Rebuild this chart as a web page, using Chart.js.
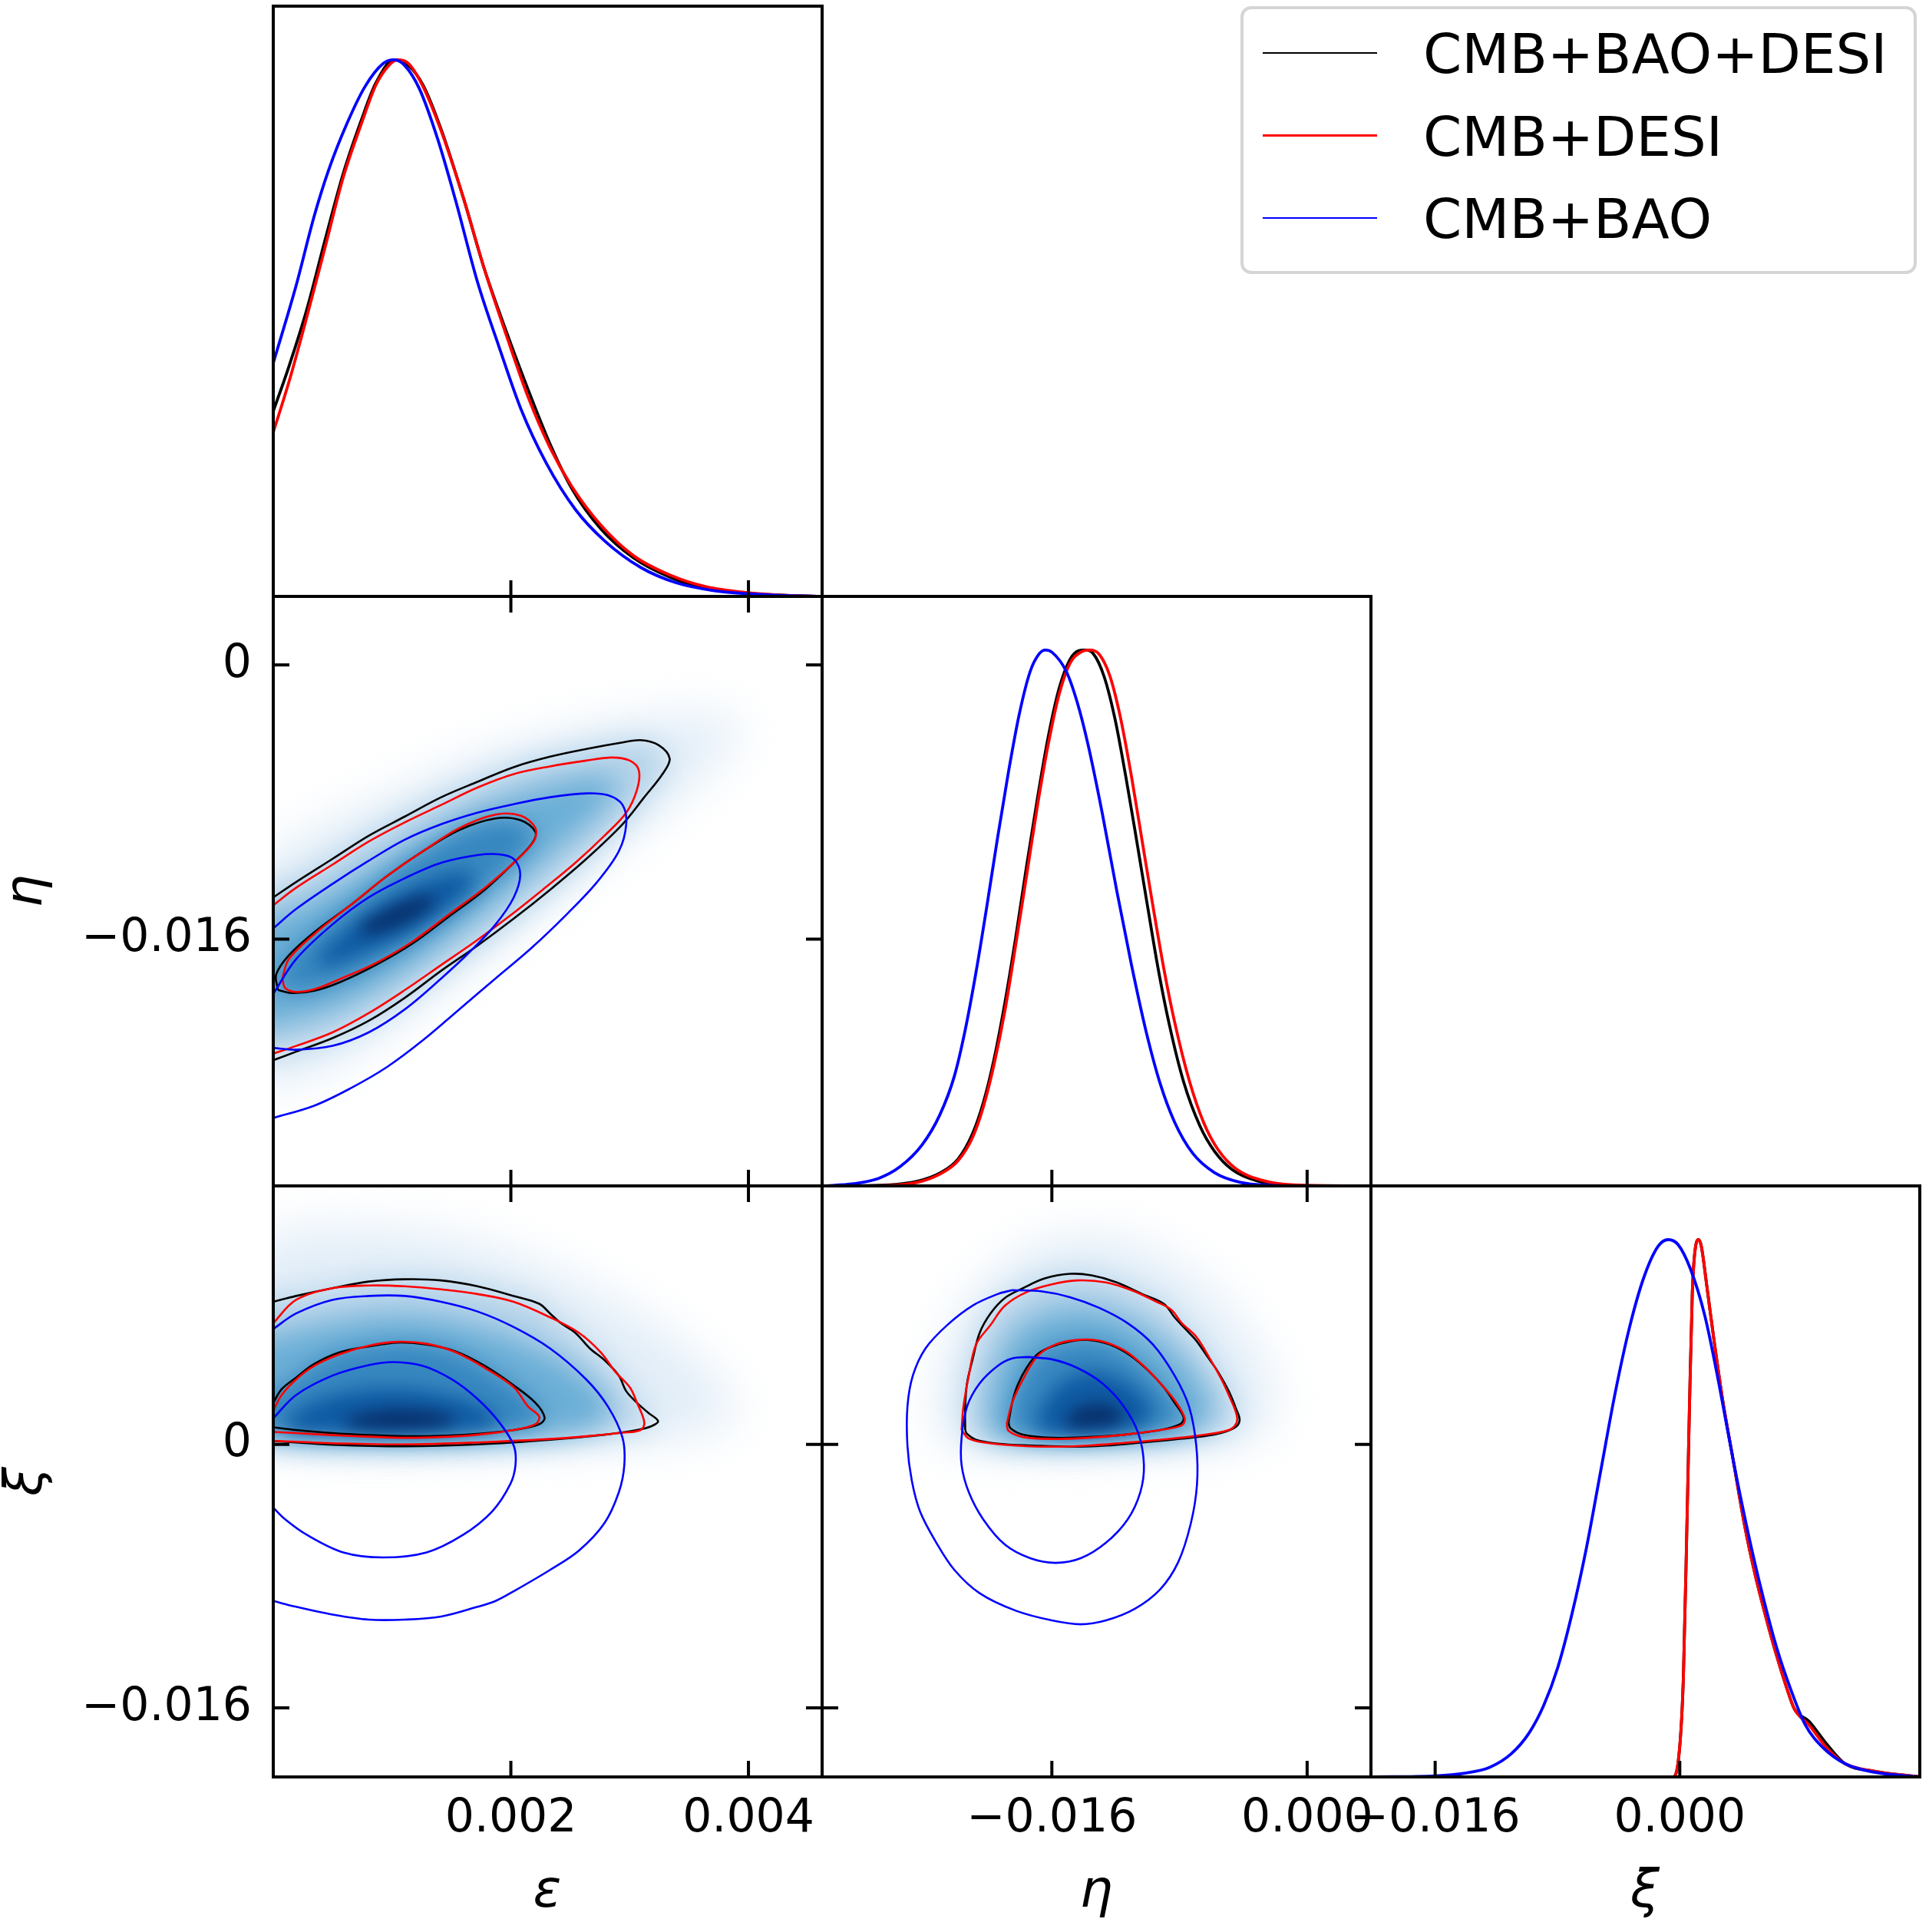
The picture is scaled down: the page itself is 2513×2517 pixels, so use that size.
<!DOCTYPE html>
<html>
<head>
<meta charset="utf-8">
<script src="https://cdn.jsdelivr.net/npm/chart.js@4.4.1/dist/chart.umd.min.js"></script>
<style>
  html, body { margin: 0; padding: 0; background: #fff; }
  body { position: relative; width: 2513px; height: 2517px; overflow: hidden; font-family: 'DejaVu Sans', sans-serif; }
  #legend { position: absolute; left: 1616px; top: 8px; width: 881px; height: 349px; box-sizing: border-box;
            border: 4px solid #d5d5d5; border-radius: 14px; background: rgba(255,255,255,0.8); z-index: 5; }
  .lg-line { position: absolute; left: 25px; width: 149px; height: 2.5px; }
  .lg-text { position: absolute; left: 234px; font-family: 'DejaVu Sans'; font-size: 72px; line-height: 72px; white-space: nowrap; color: #000; }
  .ax { position: absolute; width: 200px; height: 68px; line-height: 68px; text-align: center; color: #000;
        font-family: 'DejaVu Sans'; font-style: italic; font-size: 68px; }
  .rot { transform: rotate(-90deg); transform-origin: 50% 50%; }
</style>
</head>
<body>
<div id="legend"></div>
<div class="ax" style="left:613px;top:2427px">ε</div>
<div class="ax" style="left:1328px;top:2427px">η</div>
<div class="ax" style="left:2043px;top:2427px">ξ</div>
<div class="ax rot" style="left:-69px;top:1127px">η</div>
<div class="ax rot" style="left:-69px;top:1896px">ξ</div>
<script>
// axis ranges and ticks
const epsRange = [0, 0.00462];
const etaRange = [-0.0304, 0.0040];
const xiRange = [-0.0202, 0.0157];
const pdfRange = [0, 1.1];
const epsTicks = [0.002, 0.004];
const epsTickLabels = ['0.002', '0.004'];
const etaTicks = [-0.016, 0];
const etaXTickLabels = ['−0.016', '0.000'];
const etaYTickLabels = ['−0.016', '0'];
const xiTicks = [-0.016, 0];
const xiXTickLabels = ['−0.016', '0.000'];
const xiYTickLabels = ['−0.016', '0'];

const seriesNames = ['CMB+BAO+DESI', 'CMB+DESI', 'CMB+BAO'];
const seriesColors = ['#000000', '#ff0000', '#0000ff'];

// 1D marginals (normalised to peak = 1)
const epsBlack = [[0,0.345],[0.000131,0.428],[0.000284,0.536],[0.000437,0.665],[0.000589,0.788],[0.000742,0.888],[0.000864,0.957],[0.001017,1.0],[0.001139,0.989],[0.001261,0.953],[0.001414,0.870],[0.001597,0.745],[0.001780,0.608],[0.001963,0.493],[0.002146,0.385],[0.002330,0.284],[0.002513,0.201],[0.002757,0.126],[0.003032,0.072],[0.003337,0.036],[0.003643,0.014],[0.003993,0.006],[0.004314,0.002],[0.00462,0]];
const epsRed = [[0,0.306],[0.000131,0.399],[0.000284,0.522],[0.000437,0.651],[0.000589,0.781],[0.000742,0.881],[0.000864,0.953],[0.000971,0.989],[0.001047,1.0],[0.001139,0.993],[0.001261,0.950],[0.001414,0.867],[0.001597,0.745],[0.001780,0.608],[0.001963,0.486],[0.002146,0.371],[0.002330,0.277],[0.002513,0.205],[0.002757,0.133],[0.003032,0.076],[0.003337,0.040],[0.003643,0.018],[0.003993,0.007],[0.004314,0.002],[0.00462,0]];
const epsBlue = [[0,0.435],[0.000192,0.579],[0.000345,0.709],[0.000467,0.795],[0.000620,0.881],[0.000772,0.950],[0.000925,0.993],[0.001017,1.0],[0.001108,0.989],[0.001230,0.946],[0.001383,0.853],[0.001536,0.737],[0.001719,0.586],[0.001902,0.464],[0.002085,0.349],[0.002299,0.248],[0.002543,0.162],[0.002787,0.104],[0.003093,0.054],[0.003398,0.025],[0.003703,0.011],[0.003993,0.005],[0.004314,0.0015],[0.00462,0]];

const etaBlack = [[-0.03037,0],[-0.026184,0.002],[-0.024373,0.009],[-0.023015,0.024],[-0.021884,0.050],[-0.020979,0.097],[-0.020300,0.155],[-0.019621,0.237],[-0.018942,0.342],[-0.018263,0.464],[-0.017584,0.597],[-0.016905,0.723],[-0.016226,0.838],[-0.015547,0.928],[-0.014869,0.982],[-0.014303,0.999],[-0.013963,1.0],[-0.013398,0.993],[-0.012719,0.950],[-0.012040,0.871],[-0.011361,0.763],[-0.010682,0.644],[-0.010003,0.522],[-0.009324,0.403],[-0.008645,0.302],[-0.007740,0.194],[-0.006722,0.112],[-0.005816,0.065],[-0.004685,0.030],[-0.003101,0.009],[-0.000838,0.001],[0.004,0]];
const etaRed = [[-0.03037,0],[-0.026184,0.001],[-0.024373,0.007],[-0.023015,0.022],[-0.021884,0.047],[-0.020979,0.090],[-0.020300,0.147],[-0.019621,0.227],[-0.018942,0.327],[-0.018263,0.450],[-0.017584,0.579],[-0.016905,0.709],[-0.016226,0.824],[-0.015547,0.917],[-0.014869,0.975],[-0.014190,0.996],[-0.013624,1.0],[-0.013058,0.993],[-0.012379,0.953],[-0.011700,0.874],[-0.011021,0.766],[-0.010343,0.644],[-0.009664,0.522],[-0.008985,0.406],[-0.008306,0.306],[-0.007401,0.198],[-0.006495,0.119],[-0.005590,0.068],[-0.004458,0.032],[-0.002875,0.011],[-0.000838,0.002],[0.004,0]];
const etaBlue = [[-0.03037,0],[-0.028447,0.004],[-0.026862,0.014],[-0.025505,0.036],[-0.024147,0.076],[-0.023015,0.133],[-0.022110,0.205],[-0.021431,0.291],[-0.020752,0.399],[-0.020073,0.522],[-0.019395,0.651],[-0.018716,0.773],[-0.018037,0.881],[-0.017358,0.960],[-0.016792,0.993],[-0.016407,1.0],[-0.016,0.996],[-0.015095,0.960],[-0.014416,0.903],[-0.013737,0.824],[-0.012832,0.694],[-0.011927,0.550],[-0.011021,0.414],[-0.010116,0.291],[-0.009211,0.191],[-0.008306,0.119],[-0.007174,0.061],[-0.005816,0.025],[-0.004232,0.007],[-0.002196,0.001],[-0.000159,0],[0.004,0]];

const xiBlack = [[-0.0202,0],[-0.000470,0],[-0.000118,0.025],[0.000234,0.183],[0.000469,0.470],[0.000633,0.687],[0.000821,0.902],[0.001055,0.991],[0.001220,1.0],[0.001407,0.988],[0.001759,0.916],[0.002229,0.815],[0.002815,0.700],[0.003519,0.586],[0.004223,0.471],[0.004926,0.377],[0.005630,0.298],[0.006334,0.226],[0.007038,0.162],[0.007507,0.126],[0.008445,0.104],[0.009618,0.061],[0.010791,0.025],[0.012668,0.011],[0.0157,0]];
const xiRed = [[-0.0202,0],[-0.000470,0],[-0.000118,0.025],[0.000234,0.183],[0.000469,0.470],[0.000633,0.687],[0.000821,0.902],[0.001055,0.991],[0.001220,1.0],[0.001407,0.988],[0.001759,0.916],[0.002229,0.815],[0.002815,0.700],[0.003519,0.586],[0.004223,0.471],[0.004926,0.377],[0.005630,0.298],[0.006334,0.226],[0.007038,0.162],[0.007507,0.126],[0.008445,0.097],[0.009618,0.054],[0.010791,0.025],[0.012668,0.011],[0.0157,0]];
const xiBlue = [[-0.0202,0],[-0.016,0.002],[-0.014076,0.007],[-0.012434,0.018],[-0.011026,0.043],[-0.009853,0.082],[-0.008915,0.132],[-0.007977,0.204],[-0.007038,0.305],[-0.006100,0.427],[-0.005162,0.571],[-0.004223,0.715],[-0.003285,0.837],[-0.002346,0.930],[-0.001408,0.988],[-0.000751,1.0],[-0.000118,0.991],[0.000704,0.945],[0.001642,0.858],[0.002580,0.729],[0.003519,0.586],[0.004457,0.456],[0.005396,0.341],[0.006334,0.241],[0.007272,0.162],[0.008211,0.097],[0.009384,0.054],[0.010791,0.025],[0.012668,0.009],[0.0157,0]];

// 2D contours (outer = 95%, inner = 68%)
const epsEtaBlackOuter = [[0,-0.013568],[0.000192,-0.012668],[0.000498,-0.011318],[0.000803,-0.009968],[0.001108,-0.008843],[0.001414,-0.007718],[0.001719,-0.006818],[0.002024,-0.005963],[0.002330,-0.005355],[0.002635,-0.004905],[0.002940,-0.004523],[0.003093,-0.004388],[0.003245,-0.00468],[0.003337,-0.005468],[0.003276,-0.006368],[0.003123,-0.007718],[0.002940,-0.009293],[0.002635,-0.011318],[0.002330,-0.013118],[0.002024,-0.014805],[0.001719,-0.016380],[0.001414,-0.017843],[0.001108,-0.019418],[0.000803,-0.020768],[0.000498,-0.021780],[0.000192,-0.022568],[0,-0.023063]];
const epsEtaRedOuter = [[0,-0.014018],[0.000192,-0.013005],[0.000498,-0.011655],[0.000803,-0.010305],[0.001108,-0.009180],[0.001414,-0.008168],[0.001719,-0.007155],[0.002024,-0.006368],[0.002330,-0.005918],[0.002635,-0.00558],[0.002848,-0.0054],[0.003001,-0.00558],[0.003077,-0.006143],[0.003062,-0.007268],[0.002971,-0.008618],[0.002787,-0.009968],[0.002543,-0.011543],[0.002268,-0.013118],[0.002024,-0.014468],[0.001719,-0.016043],[0.001414,-0.017505],[0.001108,-0.018968],[0.000803,-0.020318],[0.000498,-0.021443],[0.000192,-0.022230],[0,-0.022680]];
const epsEtaBlueOuter = [[0,-0.015368],[0.000192,-0.014243],[0.000498,-0.012780],[0.000803,-0.011430],[0.001108,-0.010193],[0.001414,-0.009293],[0.001719,-0.008618],[0.002024,-0.008123],[0.002330,-0.007718],[0.002635,-0.007493],[0.002818,-0.007605],[0.002940,-0.008168],[0.002971,-0.009293],[0.002909,-0.010868],[0.002726,-0.012668],[0.002482,-0.014468],[0.002177,-0.016493],[0.001871,-0.018293],[0.001566,-0.020093],[0.001261,-0.021893],[0.000956,-0.023468],[0.000650,-0.024705],[0.000345,-0.025718],[0,-0.026438]];
const epsEtaBlackInner = [[0.0000397,-0.018968],[0.0000244,-0.018068],[0.000131,-0.016943],[0.000345,-0.015593],[0.000650,-0.014018],[0.000956,-0.012330],[0.001261,-0.010868],[0.001566,-0.009630],[0.001871,-0.008955],[0.002085,-0.009068],[0.002207,-0.009743],[0.002177,-0.010418],[0.002024,-0.011543],[0.001780,-0.013118],[0.001475,-0.014693],[0.001169,-0.016268],[0.000864,-0.017505],[0.000559,-0.018518],[0.000345,-0.019013],[0.000162,-0.019148]];
const epsEtaRedInner = [[0.0000763,-0.018293],[0.000131,-0.017168],[0.000345,-0.015705],[0.000650,-0.014018],[0.000956,-0.012330],[0.001261,-0.010868],[0.001566,-0.009518],[0.001871,-0.008730],[0.002085,-0.008798],[0.002207,-0.009518],[0.002192,-0.010305],[0.002024,-0.011543],[0.001780,-0.013005],[0.001475,-0.014580],[0.001169,-0.016155],[0.000864,-0.017393],[0.000559,-0.018338],[0.000345,-0.018923],[0.000192,-0.019080],[0.000101,-0.018855]];
const epsEtaBlueInner = [[0,-0.019193],[0.000192,-0.017168],[0.000498,-0.015143],[0.000803,-0.013568],[0.001108,-0.012443],[0.001414,-0.011543],[0.001719,-0.011093],[0.001902,-0.011048],[0.002024,-0.011318],[0.002079,-0.012218],[0.002024,-0.013568],[0.001871,-0.015143],[0.001658,-0.016718],[0.001414,-0.018293],[0.001108,-0.020093],[0.000803,-0.021443],[0.000498,-0.022230],[0.000192,-0.022455],[0,-0.022343]];

const epsXiBlackOuter = [[0,0.008661],[0.000192,0.009015],[0.000498,0.009487],[0.000803,0.009888],[0.001108,0.010030],[0.001414,0.009959],[0.001719,0.009605],[0.002024,0.009015],[0.002238,0.008543],[0.002330,0.007953],[0.002421,0.007363],[0.002543,0.006773],[0.002665,0.005829],[0.002787,0.005121],[0.002909,0.004177],[0.002971,0.003233],[0.003062,0.002525],[0.003154,0.001935],[0.003239,0.001416],[0.003184,0.001109],[0.003062,0.000873],[0.002787,0.000590],[0.002330,0.000283],[0.001719,0],[0.001108,-0.000118],[0.000498,-0.000024],[0.000192,0.000118],[0,0.000212]];
const epsXiRedOuter = [[0,0.007363],[0.000192,0.008779],[0.000498,0.009487],[0.000803,0.009652],[0.001108,0.009605],[0.001414,0.009416],[0.001719,0.009133],[0.002024,0.008661],[0.002330,0.007717],[0.002574,0.006773],[0.002757,0.005593],[0.002879,0.004413],[0.003001,0.003469],[0.003062,0.002525],[0.003123,0.001345],[0.003093,0.000873],[0.002940,0.000708],[0.002635,0.000496],[0.002330,0.000330],[0.001719,0.000118],[0.001108,0],[0.000498,0.000071],[0.000192,0.000165],[0,0.000212]];
const epsXiBlueOuter = [[0,0.007009],[0.000192,0.007953],[0.000498,0.008779],[0.000803,0.009015],[0.001108,0.009015],[0.001414,0.008661],[0.001719,0.008071],[0.002024,0.007127],[0.002330,0.005829],[0.002635,0.003941],[0.002818,0.002289],[0.002940,0.000401],[0.002955,-0.001251],[0.002909,-0.002903],[0.002787,-0.004791],[0.002574,-0.006443],[0.002330,-0.007623],[0.002024,-0.008921],[0.001871,-0.009511],[0.001719,-0.009865],[0.001414,-0.010455],[0.001108,-0.010644],[0.000803,-0.010644],[0.000498,-0.010337],[0.000192,-0.009865],[0,-0.009511]];
const epsXiBlackInner = [[0,0.002525],[0.0000702,0.003351],[0.000192,0.004059],[0.000345,0.004885],[0.000559,0.005593],[0.000803,0.005947],[0.001047,0.006183],[0.001291,0.006065],[0.001536,0.005640],[0.001780,0.004767],[0.002024,0.003587],[0.002207,0.002525],[0.002284,0.001628],[0.002238,0.001227],[0.002024,0.000873],[0.001719,0.000637],[0.001414,0.000519],[0.001108,0.000496],[0.000803,0.000566],[0.000498,0.000684],[0.000192,0.000873],[0,0.001038]];
const epsXiRedInner = [[0,0.002053],[0.0000702,0.002997],[0.000192,0.003941],[0.000345,0.004767],[0.000559,0.005475],[0.000803,0.005994],[0.001047,0.006230],[0.001291,0.006112],[0.001536,0.005593],[0.001780,0.004649],[0.002024,0.003469],[0.002146,0.002289],[0.002238,0.001699],[0.002207,0.001227],[0.002024,0.000873],[0.001719,0.000590],[0.001414,0.000448],[0.001108,0.000401],[0.000803,0.000472],[0.000498,0.000566],[0.000192,0.000684],[0,0.000755]];
const epsXiBlueInner = [[0,0.001581],[0.000192,0.002997],[0.000498,0.004177],[0.000803,0.004814],[0.001017,0.005003],[0.001261,0.004767],[0.001505,0.003941],[0.001719,0.002761],[0.001902,0.001345],[0.002024,-0.000071],[0.002039,-0.001251],[0.001994,-0.002431],[0.001841,-0.004083],[0.001597,-0.005499],[0.001291,-0.006561],[0.000925,-0.006868],[0.000589,-0.006561],[0.000284,-0.005499],[0.000101,-0.004555],[0,-0.003847]];

const etaXiBlackOuter = [[-0.021431,0.000873],[-0.021431,0.002289],[-0.021318,0.003705],[-0.020979,0.005121],[-0.020526,0.006773],[-0.019847,0.007953],[-0.018942,0.008897],[-0.017810,0.009487],[-0.016453,0.010077],[-0.014869,0.010360],[-0.013511,0.010266],[-0.011927,0.009841],[-0.010343,0.009133],[-0.008985,0.008543],[-0.008306,0.007717],[-0.007627,0.007009],[-0.006948,0.006301],[-0.006269,0.005357],[-0.005590,0.004413],[-0.004911,0.003233],[-0.004458,0.002171],[-0.004232,0.001463],[-0.004572,0.000991],[-0.005816,0.000590],[-0.008080,0.000330],[-0.010343,0.000118],[-0.012606,-0.000071],[-0.014869,-0.000142],[-0.017132,-0.000071],[-0.019395,0.000047],[-0.020752,0.000283],[-0.021318,0.000637]];
const etaXiRedOuter = [[-0.021658,0.000873],[-0.021544,0.002289],[-0.021205,0.004177],[-0.020752,0.006065],[-0.019847,0.007245],[-0.018942,0.008425],[-0.017584,0.009251],[-0.016,0.009723],[-0.014416,0.009959],[-0.012606,0.009841],[-0.011021,0.009369],[-0.009437,0.008661],[-0.008532,0.008189],[-0.007853,0.007363],[-0.006948,0.006537],[-0.006043,0.005121],[-0.005364,0.003941],[-0.004911,0.002997],[-0.004458,0.001935],[-0.004413,0.001345],[-0.004911,0.000873],[-0.006948,0.000519],[-0.009211,0.000283],[-0.011474,0.000094],[-0.013737,-0.000071],[-0.016,-0.000142],[-0.018263,-0.000071],[-0.020073,0.000094],[-0.021205,0.000354]];
const etaXiBlueOuter = [[-0.018489,0.009369],[-0.016679,0.009298],[-0.014869,0.008944],[-0.013058,0.008307],[-0.011248,0.007363],[-0.009664,0.006065],[-0.008306,0.004177],[-0.007401,0.002289],[-0.006948,-0.000071],[-0.006903,-0.002431],[-0.007288,-0.004791],[-0.008080,-0.007151],[-0.009211,-0.008803],[-0.010795,-0.009983],[-0.012606,-0.010691],[-0.014190,-0.010927],[-0.016,-0.010691],[-0.018263,-0.010101],[-0.020526,-0.009039],[-0.022110,-0.007623],[-0.023242,-0.005971],[-0.024260,-0.004083],[-0.024780,-0.002195],[-0.025052,-0.000071],[-0.025052,0.002289],[-0.024713,0.004177],[-0.023921,0.005829],[-0.022563,0.007245],[-0.020979,0.008425],[-0.019395,0.009133]];
const etaXiBlackInner = [[-0.018716,0.001345],[-0.018489,0.002525],[-0.018150,0.003587],[-0.017584,0.004649],[-0.016905,0.005475],[-0.016,0.005947],[-0.014869,0.006254],[-0.013737,0.006348],[-0.012379,0.006065],[-0.011021,0.005357],[-0.009890,0.004413],[-0.008985,0.003469],[-0.008306,0.002525],[-0.007740,0.001628],[-0.007966,0.001227],[-0.009211,0.000873],[-0.011474,0.000590],[-0.013737,0.000448],[-0.016,0.000401],[-0.017810,0.000590],[-0.018602,0.000991]];
const etaXiRedInner = [[-0.018829,0.001227],[-0.018489,0.002525],[-0.017810,0.003941],[-0.016905,0.005357],[-0.015774,0.006065],[-0.014416,0.006348],[-0.013058,0.006301],[-0.011474,0.005711],[-0.010116,0.004649],[-0.008985,0.003469],[-0.008193,0.002525],[-0.007672,0.001581],[-0.007853,0.001156],[-0.009211,0.000873],[-0.011474,0.000590],[-0.013737,0.000401],[-0.016,0.000330],[-0.017810,0.000448],[-0.018716,0.000826]];
const etaXiBlueInner = [[-0.017584,0.005310],[-0.016,0.005168],[-0.014416,0.004649],[-0.012832,0.003705],[-0.011474,0.002289],[-0.010569,0.000637],[-0.010229,-0.001251],[-0.010456,-0.002903],[-0.011248,-0.004555],[-0.012606,-0.005971],[-0.014190,-0.006915],[-0.015774,-0.007198],[-0.017358,-0.006915],[-0.018942,-0.006089],[-0.020300,-0.004555],[-0.021205,-0.002903],[-0.021658,-0.001251],[-0.021658,0.000401],[-0.021318,0.002289],[-0.020526,0.003705],[-0.019395,0.004767],[-0.018489,0.005216]];

// density shading levels for CMB+BAO+DESI (outermost first)
const epsEtaShade0 = [[0,-0.011993],[0.000803,-0.008168],[0.001719,-0.005243],[0.002635,-0.003668],[0.003398,-0.002768],[0.004008,-0.002993],[0.003856,-0.005018],[0.003398,-0.007943],[0.002940,-0.010193],[0.002330,-0.013568],[0.001719,-0.017168],[0.001108,-0.020543],[0.000498,-0.023693],[0,-0.025268]];
const epsEtaShade2 = [[0,-0.015818],[0.000498,-0.013343],[0.001108,-0.010643],[0.001719,-0.008393],[0.002330,-0.006930],[0.002787,-0.006368],[0.002940,-0.006818],[0.002787,-0.008393],[0.002330,-0.011093],[0.001719,-0.014693],[0.001108,-0.017843],[0.000498,-0.020318],[0,-0.021668]];
const epsEtaShade4 = [[0.000345,-0.017168],[0.000650,-0.015143],[0.001047,-0.013343],[0.001414,-0.012218],[0.001658,-0.011993],[0.001719,-0.012668],[0.001475,-0.014243],[0.001108,-0.015818],[0.000650,-0.017168],[0.000406,-0.017730]];
const epsEtaShade5 = [[0.000742,-0.015143],[0.001047,-0.013905],[0.001322,-0.013343],[0.001383,-0.013793],[0.001169,-0.014918],[0.000864,-0.015705],[0.000711,-0.015705]];

const epsXiShade0 = [[0,0.012909],[0.000803,0.013381],[0.001719,0.012437],[0.002635,0.009841],[0.003398,0.006537],[0.003856,0.003233],[0.003917,0.001109],[0.003245,0.000165],[0.002330,-0.000071],[0.001108,-0.000307],[0,-0.000189]];
const epsXiShade2 = [[0,0.005829],[0.000498,0.007481],[0.001108,0.007953],[0.001719,0.007245],[0.002330,0.005593],[0.002787,0.003233],[0.002879,0.001345],[0.002330,0.000401],[0.001108,0.000047],[0,0.000165]];
const epsXiShade4 = [[0.0000702,0.001345],[0.000345,0.002761],[0.000803,0.003469],[0.001261,0.003351],[0.001719,0.002525],[0.001963,0.001345],[0.001719,0.000826],[0.001108,0.000637],[0.000345,0.000684],[0.0000702,0.000873]];
const epsXiShade5 = [[0.000589,0.001581],[0.000956,0.002171],[0.001352,0.002053],[0.001597,0.001463],[0.001352,0.000991],[0.000956,0.000873],[0.000620,0.001062]];

const etaXiShade0 = [[-0.023242,0.002289],[-0.022563,0.006537],[-0.020526,0.009841],[-0.017132,0.012201],[-0.013737,0.012909],[-0.010343,0.012201],[-0.006948,0.010313],[-0.004006,0.007481],[-0.002196,0.004177],[-0.001969,0.001345],[-0.004006,-0.000071],[-0.010343,-0.000354],[-0.017132,-0.000354],[-0.021658,-0.000189],[-0.023242,0.000401]];
const etaXiShade2 = [[-0.020073,0.001109],[-0.019847,0.003705],[-0.018716,0.006537],[-0.016679,0.007953],[-0.013737,0.008425],[-0.010795,0.007481],[-0.008080,0.005593],[-0.006269,0.003233],[-0.005816,0.001345],[-0.008080,0.000401],[-0.013737,0.000165],[-0.018263,0.000212],[-0.019847,0.000519]];
const etaXiShade4 = [[-0.017132,0.001109],[-0.016226,0.003233],[-0.014416,0.004413],[-0.012606,0.004413],[-0.010795,0.003469],[-0.009437,0.002053],[-0.010343,0.000873],[-0.013737,0.000590],[-0.016679,0.000684]];
const etaXiShade5 = [[-0.015321,0.001345],[-0.014416,0.002289],[-0.012832,0.002525],[-0.011474,0.002053],[-0.011700,0.001227],[-0.013511,0.000991],[-0.014869,0.000991]];

const shadeColors = ['#e3eef8', '#b3d2e9', '#6aaed6', '#3787c0', '#0f5aa3', '#08306b'];
const shadeBlur = [30, 20, 18, 14, 12, 10];

// panel geometry on the page
const colL = [356, 1071, 1786], colW = 715;
const rowT = [8, 777, 1545], rowH = [769, 768, 770];
const pageH = 2517;

const xy = a => a.map(p => ({ x: p[0], y: p[1] }));
const closed = a => a.concat([a[0]]);

function pdfLine(arr, k) {
  return { data: xy(arr), showLine: true, borderColor: seriesColors[k], borderWidth: 3.8,
           pointRadius: 0, cubicInterpolationMode: 'monotone', order: 3 - k };
}
function contour(arr, k) {
  return { data: xy(arr), showLine: true, borderColor: seriesColors[k], borderWidth: 2.6,
           pointRadius: 0, tension: 0.35, order: 3 - k };
}
function shade(arr, lvl) {
  return { data: xy(arr), showLine: false, pointRadius: 0, shadeColor: shadeColors[lvl], blurPx: shadeBlur[lvl], order: 10 };
}

// filled, blurred density levels drawn under the lines
const shadePlugin = {
  id: 'shade',
  beforeDatasetsDraw(chart) {
    const ctx = chart.ctx, a = chart.chartArea;
    chart.data.datasets.forEach((ds, i) => {
      if (!ds.shadeColor) return;
      const pts = chart.getDatasetMeta(i).data.map(el => ({ x: el.x <= a.left + 0.5 ? el.x - 60 : el.x, y: el.y }));
      const n = pts.length;
      const mid = (p, q) => ({ x: (p.x + q.x) / 2, y: (p.y + q.y) / 2 });
      ctx.save();
      ctx.beginPath();
      ctx.rect(a.left, a.top, a.right - a.left, a.bottom - a.top);
      ctx.clip();
      ctx.filter = 'blur(' + ds.blurPx + 'px)';
      ctx.fillStyle = ds.shadeColor;
      ctx.beginPath();
      const m0 = mid(pts[n - 1], pts[0]);
      ctx.moveTo(m0.x, m0.y);
      for (let k = 0; k < n; k++) {
        const p = pts[k], m = mid(p, pts[(k + 1) % n]);
        ctx.quadraticCurveTo(p.x, p.y, m.x, m.y);
      }
      ctx.closePath();
      ctx.fill();
      ctx.restore();
    });
  }
};

// axes box with inward ticks
const framePlugin = {
  id: 'frame',
  afterDraw(chart, args, opts) {
    const ctx = chart.ctx, a = chart.chartArea, L = 21;
    const xs = chart.scales.x, ys = chart.scales.y;
    ctx.save();
    ctx.strokeStyle = '#000';
    ctx.lineWidth = 4;
    ctx.beginPath();
    opts.xTicks.forEach(v => {
      const px = xs.getPixelForValue(v);
      ctx.moveTo(px, a.bottom); ctx.lineTo(px, a.bottom - L);
      if (opts.box) { ctx.moveTo(px, a.top); ctx.lineTo(px, a.top + L); }
    });
    if (opts.box) {
      opts.yTicks.forEach(v => {
        const py = ys.getPixelForValue(v);
        ctx.moveTo(a.left, py); ctx.lineTo(a.left + L, py);
        ctx.moveTo(a.right, py); ctx.lineTo(a.right - L, py);
      });
    }
    ctx.stroke();
    ctx.strokeRect(a.left, a.top, a.right - a.left, a.bottom - a.top);
    ctx.restore();
  }
};

function panel(col, row, cfg) {
  const m = 80;
  const mL = cfg.yLabels ? colL[col] : m;
  const mB = cfg.xLabels ? pageH - rowT[row] - rowH[row] : m;
  const div = document.createElement('div');
  div.style.cssText = 'position:absolute;left:' + (colL[col] - mL) + 'px;top:' + (rowT[row] - m) + 'px;width:' +
    (colW + mL + m) + 'px;height:' + (rowH[row] + m + mB) + 'px;';
  const cv = document.createElement('canvas');
  div.appendChild(cv);
  document.body.appendChild(div);
  const tickFont = { family: 'DejaVu Sans', size: 60 };
  const xScale = {
    type: 'linear', position: 'bottom', min: cfg.x.range[0], max: cfg.x.range[1], display: !!cfg.xLabels,
    grid: { display: false, drawTicks: false }, border: { display: false },
    ticks: { font: tickFont, color: '#000', padding: 19, autoSkip: false, maxRotation: 0, minRotation: 0,
             callback: (v, i) => cfg.x.labels[i] },
    afterBuildTicks: s => { s.ticks = cfg.x.ticks.map(v => ({ value: v })); }
  };
  if (cfg.xLabels) xScale.afterFit = s => { s.height = mB; };
  const yScale = {
    type: 'linear', position: 'left', min: cfg.y.range[0], max: cfg.y.range[1], display: !!cfg.yLabels,
    grid: { display: false, drawTicks: false }, border: { display: false },
    ticks: { font: tickFont, color: '#000', padding: 28, autoSkip: false,
             callback: (v, i) => (cfg.y.labels || [])[i] },
    afterBuildTicks: s => { s.ticks = (cfg.y.ticks || []).map(v => ({ value: v })); }
  };
  if (cfg.yLabels) yScale.afterFit = s => { s.width = mL; };
  new Chart(cv, {
    type: 'scatter',
    data: { datasets: cfg.datasets },
    options: {
      responsive: true, maintainAspectRatio: false, animation: false, events: [],
      layout: { padding: { left: cfg.yLabels ? 0 : m, right: m, top: m, bottom: cfg.xLabels ? 0 : m } },
      plugins: { legend: { display: false }, tooltip: { enabled: false },
                 frame: { xTicks: cfg.x.ticks, yTicks: cfg.y.ticks || [], box: cfg.box } },
      scales: { x: xScale, y: yScale }
    },
    plugins: [shadePlugin, framePlugin]
  });
}

// row 0: epsilon marginal
panel(0, 0, {
  x: { range: epsRange, ticks: epsTicks, labels: epsTickLabels },
  y: { range: pdfRange },
  box: false,
  datasets: [pdfLine(epsBlack, 0), pdfLine(epsRed, 1), pdfLine(epsBlue, 2)]
});

// row 1: eta vs epsilon, eta marginal
panel(0, 1, {
  x: { range: epsRange, ticks: epsTicks, labels: epsTickLabels },
  y: { range: etaRange, ticks: etaTicks, labels: etaYTickLabels },
  yLabels: true, box: true,
  datasets: [
    shade(epsEtaShade0, 0), shade(epsEtaBlackOuter, 1), shade(epsEtaShade2, 2),
    shade(epsEtaBlackInner, 3), shade(epsEtaShade4, 4), shade(epsEtaShade5, 5),
    contour(epsEtaBlackOuter, 0), contour(closed(epsEtaBlackInner), 0),
    contour(epsEtaRedOuter, 1), contour(closed(epsEtaRedInner), 1),
    contour(epsEtaBlueOuter, 2), contour(epsEtaBlueInner, 2)
  ]
});
panel(1, 1, {
  x: { range: etaRange, ticks: etaTicks, labels: etaXTickLabels },
  y: { range: pdfRange },
  box: false,
  datasets: [pdfLine(etaBlack, 0), pdfLine(etaRed, 1), pdfLine(etaBlue, 2)]
});

// row 2: xi vs epsilon, xi vs eta, xi marginal
panel(0, 2, {
  x: { range: epsRange, ticks: epsTicks, labels: epsTickLabels },
  y: { range: xiRange, ticks: xiTicks, labels: xiYTickLabels },
  xLabels: true, yLabels: true, box: true,
  datasets: [
    shade(epsXiShade0, 0), shade(epsXiBlackOuter, 1), shade(epsXiShade2, 2),
    shade(epsXiBlackInner, 3), shade(epsXiShade4, 4), shade(epsXiShade5, 5),
    contour(epsXiBlackOuter, 0), contour(epsXiBlackInner, 0),
    contour(epsXiRedOuter, 1), contour(epsXiRedInner, 1),
    contour(epsXiBlueOuter, 2), contour(epsXiBlueInner, 2)
  ]
});
panel(1, 2, {
  x: { range: etaRange, ticks: etaTicks, labels: etaXTickLabels },
  y: { range: xiRange, ticks: xiTicks, labels: xiYTickLabels },
  xLabels: true, box: true,
  datasets: [
    shade(etaXiShade0, 0), shade(etaXiBlackOuter, 1), shade(etaXiShade2, 2),
    shade(etaXiBlackInner, 3), shade(etaXiShade4, 4), shade(etaXiShade5, 5),
    contour(closed(etaXiBlackOuter), 0), contour(closed(etaXiBlackInner), 0),
    contour(closed(etaXiRedOuter), 1), contour(closed(etaXiRedInner), 1),
    contour(closed(etaXiBlueOuter), 2), contour(closed(etaXiBlueInner), 2)
  ]
});
panel(2, 2, {
  x: { range: xiRange, ticks: xiTicks, labels: xiXTickLabels },
  y: { range: pdfRange },
  xLabels: true, box: false,
  datasets: [pdfLine(xiBlack, 0), pdfLine(xiRed, 1), pdfLine(xiBlue, 2)]
});

// legend
const legend = document.getElementById('legend');
seriesNames.forEach((name, k) => {
  const cy = 57 + k * 107.5;
  const ln = document.createElement('div');
  ln.className = 'lg-line';
  ln.style.top = (cy - 1.25) + 'px';
  ln.style.background = seriesColors[k];
  const tx = document.createElement('div');
  tx.className = 'lg-text';
  tx.style.top = (cy - 35) + 'px';
  tx.textContent = name;
  legend.appendChild(ln);
  legend.appendChild(tx);
});
</script>
</body>
</html>
